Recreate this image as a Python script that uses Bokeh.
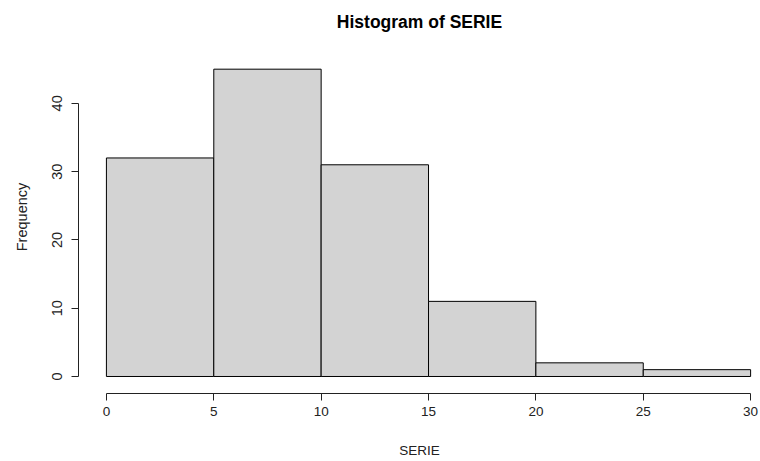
from bokeh.plotting import figure
from bokeh.models import Range1d, LinearAxis, FixedTicker, ColumnDataSource
from bokeh.embed import file_html
from bokeh.resources import INLINE

# Histogram bins of SERIE (width 5) and their counts
bin_left = [0, 5, 10, 15, 20, 25]
bin_right = [5, 10, 15, 20, 25, 30]
counts = [32, 45, 31, 11, 2, 1]

x_ticks = [0, 5, 10, 15, 20, 25, 30]
y_ticks = [0, 10, 20, 30, 40]

FONT = "Liberation Sans"

p = figure(
    width=760, height=461,
    output_backend="svg", toolbar_location=None,
    x_range=Range1d(-1.30, 30.46), y_range=Range1d(-2.49, 49.2),
    min_border_left=78, min_border_right=0, min_border_top=40, min_border_bottom=68,
    x_axis_location=None, y_axis_location=None,
    title="Histogram of SERIE",
)
p.grid.visible = False
p.outline_line_color = None
p.background_fill_color = "white"
p.border_fill_color = "white"

p.title.align = "center"
p.title.text_font = FONT
p.title.text_font_size = "17.5px"
p.title.text_font_style = "bold"
p.title.text_color = "black"
p.title.offset = 0
p.title.standoff = 17

src = ColumnDataSource(dict(left=bin_left, right=bin_right, top=counts,
                            bottom=[0] * len(counts)))
p.quad(left="left", right="right", top="top", bottom="bottom", source=src,
       fill_color="#D3D3D3", line_color="black", line_width=1)

def style_axis(ax, size):
    ax.axis_line_color = "#222222"
    ax.major_tick_line_color = "#222222"
    ax.minor_tick_line_color = None
    ax.major_tick_in = 0
    ax.major_tick_out = 7
    ax.major_label_text_font = FONT
    ax.major_label_text_font_size = size
    ax.major_label_text_color = "#222222"
    ax.axis_label_text_font = FONT
    ax.axis_label_text_font_size = size
    ax.axis_label_text_font_style = "normal"
    ax.axis_label_text_color = "#222222"

xa = LinearAxis(ticker=FixedTicker(ticks=x_ticks), bounds=(0, 30), axis_label="SERIE")
style_axis(xa, "13.5px")
xa.major_label_standoff = 6
xa.axis_label_standoff = 24
p.add_layout(xa, "below")

ya = LinearAxis(ticker=FixedTicker(ticks=y_ticks), bounds=(0, 40), axis_label="Frequency")
style_axis(ya, "14.5px")
ya.major_label_orientation = "vertical"
ya.major_label_standoff = 9
ya.axis_label_standoff = 20
p.add_layout(ya, "left")

open("out.html", "w").write(file_html(p, INLINE))
